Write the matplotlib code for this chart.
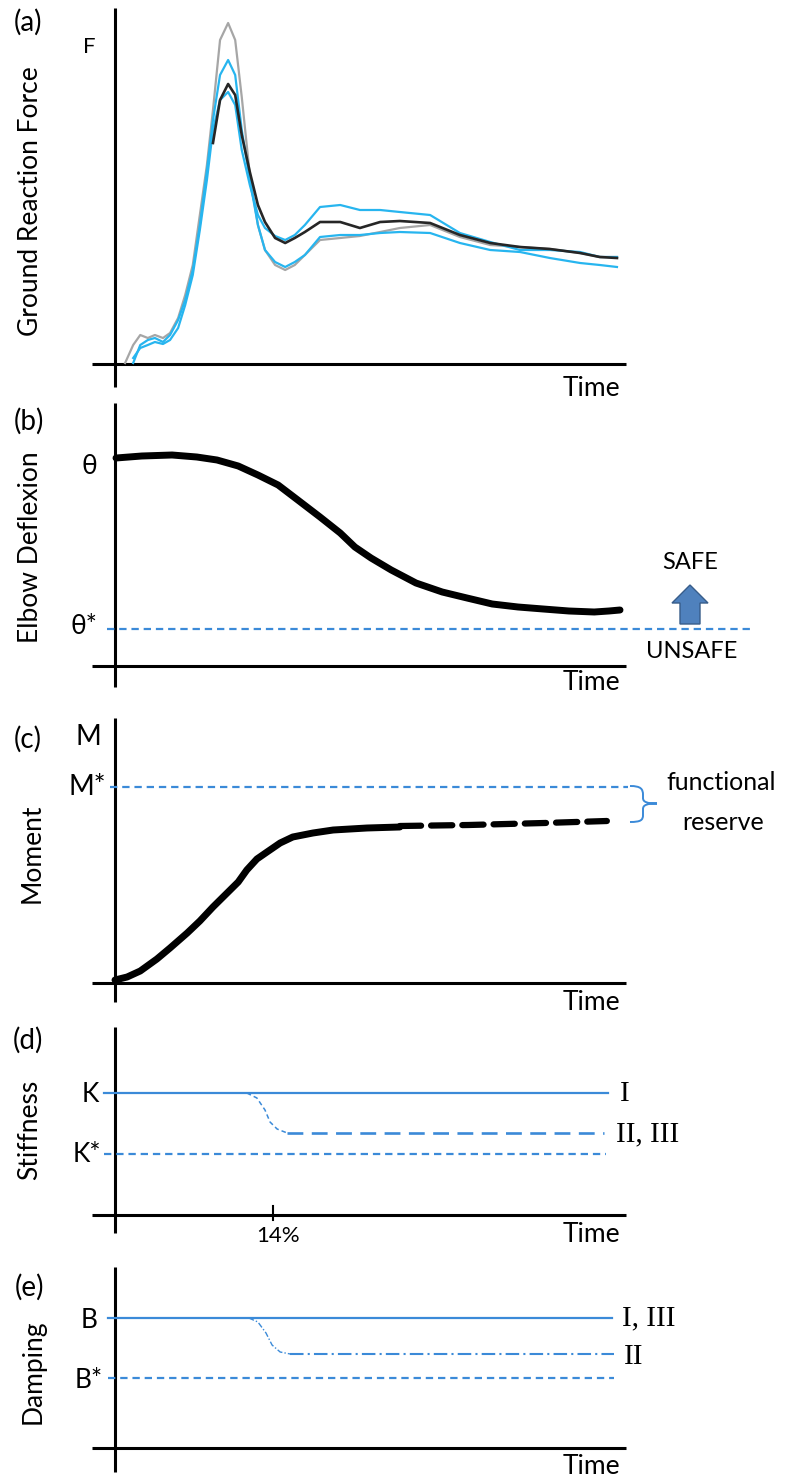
import matplotlib
matplotlib.use("Agg")
import matplotlib.pyplot as plt
from matplotlib.path import Path
from matplotlib.patches import PathPatch, Polygon

W, H = 788, 1481
X0, X1 = 115, 620          # pixel positions of time 0 and time 100

# ---- (a) ground reaction force, arbitrary units vs % time
grf_time = [2.0, 3.6, 5.0, 6.5, 7.9, 9.5, 10.9, 12.5, 13.9, 15.4, 16.8, 18.2, 19.4,
            20.8, 22.4, 23.8, 25.1, 26.7, 28.3, 29.7, 31.7, 33.7, 35.6, 37.6, 40.6,
            44.6, 48.5, 52.5, 56.4, 62.4, 68.3, 74.3, 80.2, 86.1, 92.1, 96.0, 99.4]
grf_gray = [1, 19, 29, 26, 29, 26, 31, 46, 69, 99, 149, 199, 254, 324, 341, 324, 267,
            189, 139, 114, 99, 94, 99, 109, 124, 126, 128, 132, 136, 139, 127, 119,
            117, 115, 111, 107, 107]
grf_cyan_a = [1, 19, 24, 26, 22, 29, 44, 64, 94, 139, 194, 244, 289, 304, 289, 234,
              184, 139, 114, 102, 97, 102, 109, 127, 129, 129, 131, 132, 131, 121,
              114, 112, 106, 101, 99, 97]
grf_cyan_b = [6, 16, 19, 22, 20, 24, 36, 59, 89, 134, 184, 234, 264, 272, 259, 214,
              179, 149, 136, 128, 124, 129, 139, 157, 159, 154, 154, 152, 149, 131,
              122, 114, 114, 112, 107, 107]
grf_black = [221, 264, 280, 269, 229, 192, 159, 142, 126, 121, 126, 132, 142, 142,
             136, 142, 143, 141, 129, 121, 117, 115, 111, 107, 106]

# ---- (b) elbow deflexion
theta_time = [0.2, 5.3, 11.3, 16.2, 20.2, 24.4, 28.3, 32.3, 36.2, 40.6, 44.6, 47.5,
              50.7, 54.7, 59.6, 64.8, 69.7, 74.7, 79.8, 84.8, 89.9, 94.9, 97.8, 100]
theta_vals = [208, 210, 211, 209, 206, 200, 191, 181, 166, 149, 133, 119, 108, 96,
              83, 74, 68, 62, 59, 57, 55, 54, 55, 56]
theta_star = 37

# ---- (c) moment
mom_time = [0, 2.4, 5, 8.3, 10.9, 14.3, 16.8, 19.4, 22.2, 24.4, 26.1, 28.1, 30.1,
            32.7, 35.2, 39.2, 43.2, 49.9, 56.4]
mom_vals = [3, 6, 12, 24, 35, 50, 62, 76, 90, 101, 113, 124, 131, 140, 146, 150,
            153, 155, 156]
mom_pred_time = [56.4, 70, 85, 97.4]
mom_pred_vals = [157, 158, 160, 162]
m_star = 196

# ---- (d) stiffness
k_level, k_low, k_star = 122, 82, 61
k_drop_time = [26.1, 28.1, 29.7, 30.7, 32.1, 34.1]
k_drop_vals = [122, 117, 105, 93, 86, 82]
tick_14 = 31.3

# ---- (e) damping
b_level, b_low, b_star = 130, 94, 70
b_drop_time = [26.5, 28.3, 29.9, 31.1, 32.7, 34.7]
b_drop_vals = [130, 126, 115, 103, 96, 94]

BLUE = "#3b8ad8"
CYAN = "#27b5ef"
FONT = ["Lato", "DejaVu Sans"]
SERIF = ["Liberation Serif", "DejaVu Serif"]

fig = plt.figure(figsize=(W / 100, H / 100), dpi=100)


def px2t(px):
    return (px - X0) / (X1 - X0) * 100


def ftext(px, py, s, size=19, **kw):
    kw.setdefault("ha", "center")
    kw.setdefault("va", "center")
    kw.setdefault("family", FONT)
    fig.text(px / W, 1 - py / H, s, fontsize=size, **kw)


def make_panel(top, base, bottom):
    ax = fig.add_axes([X0 / W, 1 - base / H, (X1 - X0) / W, (base - top) / H])
    ax.set_xlim(0, 100)
    ax.set_ylim(0, base - top)
    ax.axis("off")
    ax.plot([0, 0], [base - top, base - bottom], color="black", lw=2.2,
            clip_on=False, solid_capstyle="butt")
    ax.plot([px2t(92), px2t(626)], [0, 0], color="black", lw=2.2,
            clip_on=False, solid_capstyle="butt")
    return ax


def thresh(ax, y, x_end=612, x_start=106):
    ax.plot([px2t(x_start), px2t(x_end)], [y, y], color=BLUE, lw=1.6,
            dashes=(3.3, 2.2), clip_on=False)


# (a)
ax = make_panel(8, 364, 387)
ax.plot(grf_time, grf_gray, color="#a6a6a6", lw=1.6, clip_on=False)
ax.plot(grf_time[1:], grf_cyan_a, color=CYAN, lw=1.6, clip_on=False)
ax.plot(grf_time[1:], grf_cyan_b, color=CYAN, lw=1.6, clip_on=False)
ax.plot(grf_time[12:], grf_black, color="#262626", lw=1.9, clip_on=False)
ftext(28, 22, "(a)", 20)
ftext(89, 47, "F", 16)
ftext(31, 201, "Ground Reaction Force", 19, rotation=90)
ftext(620, 389, "Time", 19, ha="right")

# (b)
base_b = 666
ax = make_panel(403, base_b, 687)
ax.plot(theta_time, theta_vals, color="black", lw=5, solid_capstyle="round",
        solid_joinstyle="round", clip_on=False)
thresh(ax, theta_star, x_end=750, x_start=107)
arrow_px = [(680, 624), (700, 624), (700, 603), (708, 603), (690, 585), (672, 603),
            (680, 603)]
ax.add_patch(Polygon([(px2t(x), base_b - y) for x, y in arrow_px], closed=True,
                     facecolor="#4f81bd", edgecolor="#385d8a", lw=1, clip_on=False))
ftext(29, 421, "(b)", 20)
ftext(89, 466, "θ", 19)
ftext(84, 627, "θ*", 19)
ftext(30, 547, "Elbow Deflexion", 19, rotation=90)
ftext(690, 563, "SAFE", 17)
ftext(692, 651, "UNSAFE", 17)
ftext(620, 683, "Time", 19, ha="right")

# (c)
base_c = 983
ax = make_panel(718, base_c, 1002)
ax.plot(mom_time, mom_vals, color="black", lw=5, solid_capstyle="round",
        solid_joinstyle="round", clip_on=False)
ax.plot(mom_pred_time, mom_pred_vals, color="black", lw=4.5, dashes=(3.4, 1.6),
        dash_capstyle="round", clip_on=False)
thresh(ax, m_star, x_end=628, x_start=110)
brace_px = [(630, 786), (641, 786), (643, 789), (643, 795), (643, 798),
            (643, 802), (647, 803.5), (657, 803.5), (647, 803.5), (643, 805),
            (643, 809), (643, 815), (643, 820), (641, 822), (630, 822)]
codes = [Path.MOVETO, Path.CURVE4, Path.CURVE4, Path.CURVE4, Path.LINETO,
         Path.CURVE4, Path.CURVE4, Path.CURVE4, Path.CURVE4, Path.CURVE4,
         Path.CURVE4, Path.LINETO, Path.CURVE4, Path.CURVE4, Path.CURVE4]
brace = Path([(px2t(x), base_c - y) for x, y in brace_px], codes)
ax.add_patch(PathPatch(brace, fill=False, edgecolor=BLUE, lw=1.4, clip_on=False))
ftext(28, 739, "(c)", 20)
ftext(88, 737, "M", 20)
ftext(87, 787, "M*", 20)
ftext(32, 853, "Moment", 19, rotation=90)
ftext(721, 783, "functional", 18)
ftext(723, 822, "reserve", 18)
ftext(620, 1002, "Time", 19, ha="right")

# (d)
base_d = 1215
ax = make_panel(1027, base_d, 1233)
ax.plot([px2t(104), px2t(608)], [k_level, k_level], color=BLUE, lw=1.6,
        clip_on=False)
ax.plot(k_drop_time, k_drop_vals, color=BLUE, lw=1.1, dashes=(3, 2))
ax.plot([k_drop_time[-1], px2t(604)], [k_low, k_low], color=BLUE, lw=1.9,
        dashes=(6, 3.2), clip_on=False)
thresh(ax, k_star, x_end=606, x_start=104)
ax.plot([tick_14, tick_14], [9, -5], color="black", lw=1.5, clip_on=False)
ftext(28, 1040, "(d)", 20)
ftext(90, 1095, "K", 19)
ftext(87, 1155, "K*", 19)
ftext(30, 1130, "Stiffness", 19, rotation=90)
ftext(278, 1236, "14%", 16)
ftext(620, 1094, "I", 21, ha="left", family=SERIF)
ftext(616, 1134, "II, III", 21, ha="left", family=SERIF)
ftext(620, 1235, "Time", 19, ha="right")

# (e)
base_e = 1448
ax = make_panel(1267, base_e, 1472)
ax.plot([px2t(108), px2t(612)], [b_level, b_level], color=BLUE, lw=1.6,
        clip_on=False)
ax.plot(b_drop_time, b_drop_vals, color=BLUE, lw=1.0, dashes=(4, 1.5, 1, 1.5))
ax.plot([b_drop_time[-1], px2t(614)], [b_low, b_low], color=BLUE, lw=1.5,
        dashes=(6.5, 2, 1, 2), clip_on=False)
thresh(ax, b_star, x_end=614, x_start=108)
ftext(29, 1287, "(e)", 20)
ftext(89, 1320, "B", 19)
ftext(89, 1381, "B*", 19)
ftext(33, 1372, "Damping", 19, rotation=90)
ftext(622, 1318, "I, III", 21, ha="left", family=SERIF)
ftext(624, 1357, "II", 21, ha="left", family=SERIF)
ftext(620, 1467, "Time", 19, ha="right")

fig.savefig("out.png", dpi=100, facecolor="white")
